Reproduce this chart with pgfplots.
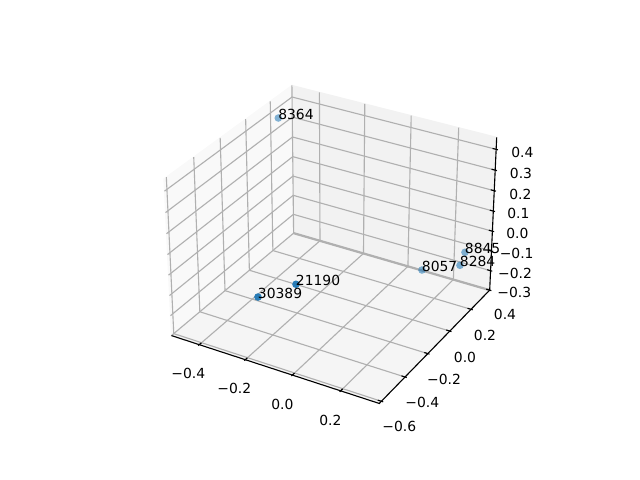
\documentclass[border=0pt]{standalone}
\usepackage{pgfplots}
\pgfplotsset{compat=1.18}
\usepackage{fontspec}
\setmainfont{DejaVu Sans}
\definecolor{gridc}{HTML}{B0B0B0}
\definecolor{ptc}{HTML}{1F77B4}
\definecolor{paneL}{HTML}{F9F9F9}
\definecolor{paneR}{HTML}{F2F2F2}
\definecolor{paneF}{HTML}{F5F5F5}
\pgfplotsset{
  table/proj/.style={
    x expr={sx(\thisrow{x},\thisrow{y},\thisrow{z})},
    y expr={sy(\thisrow{x},\thisrow{y},\thisrow{z})}},
  pt3/.style={only marks,mark=*,mark size=2.75pt,
    mark options={draw=ptc,draw opacity=0,fill=ptc,fill opacity=#1},
    point meta=explicit symbolic,
    nodes near coords,
    nodes near coords align={anchor=base west},
    every node near coord/.append style={anchor=base west,inner sep=0pt,outer sep=0pt,yshift=-1bp,text=black,text opacity=1,fill opacity=1,draw opacity=1,font=\fontsize{10bp}{12bp}\selectfont}},
}
\begin{document}
\begin{tikzpicture}[x=1in,y=1in]
\path[use as bounding box] (0,0) rectangle (6.4,4.8);
\begin{axis}[
  at={(0,0)},anchor=south west,
  scale only axis,width=6.4in,height=4.8in,
  xmin=0,xmax=640,ymin=0,ymax=480,
  hide axis,clip=false,
  unbounded coords=jump,empty line=jump,
  declare function={
    ppx(\a)=0.59524*(2*(\a+0.5234)/0.88-1);
    ppy(\a)=0.59524*(2*(\a+0.4175)/0.9995-1);
    ppz(\a)=0.44643*(2*(\a+0.3)/0.757-1);
    xvw(\a,\b,\c)=0.86603*ppx(\a)+0.5*ppy(\b);
    yvw(\a,\b,\c)=-0.25*ppx(\a)+0.43301*ppy(\b)+0.86603*ppz(\c);
    zvw(\a,\b,\c)=0.43301*ppx(\a)-0.75*ppy(\b)+0.5*ppz(\c);
    sx(\a,\b,\c)=333.5+2000*xvw(\a,\b,\c)/(10-zvw(\a,\b,\c));
    sy(\a,\b,\c)=480-236.8+2000*yvw(\a,\b,\c)/(10-zvw(\a,\b,\c));
  },
]
% panes
\addplot[fill=paneL,draw=paneL,line width=0.8bp] table[proj] {
x y z
-0.5234 -0.4175 -0.30
-0.5234 0.582 -0.30
-0.5234 0.582 0.457
-0.5234 -0.4175 0.457
} -- cycle;
\addplot[fill=paneR,draw=paneR,line width=0.8bp] table[proj] {
x y z
-0.5234 0.582 -0.30
0.3566 0.582 -0.30
0.3566 0.582 0.457
-0.5234 0.582 0.457
} -- cycle;
\addplot[fill=paneF,draw=paneF,line width=0.8bp] table[proj] {
x y z
-0.5234 -0.4175 -0.30
0.3566 -0.4175 -0.30
0.3566 0.582 -0.30
-0.5234 0.582 -0.30
} -- cycle;
% grid
\addplot[gridc,line width=0.8bp,mark=none] table[proj] {
x y z
-0.4 -0.4175 -0.30
-0.4 0.582 -0.30
-0.4 0.582 0.457

-0.2 -0.4175 -0.30
-0.2 0.582 -0.30
-0.2 0.582 0.457

0.0 -0.4175 -0.30
0.0 0.582 -0.30
0.0 0.582 0.457

0.2 -0.4175 -0.30
0.2 0.582 -0.30
0.2 0.582 0.457
};
\addplot[gridc,line width=0.8bp,mark=none] table[proj] {
x y z
0.3566 -0.4 -0.30
-0.5234 -0.4 -0.30
-0.5234 -0.4 0.457

0.3566 -0.2 -0.30
-0.5234 -0.2 -0.30
-0.5234 -0.2 0.457

0.3566 0.0 -0.30
-0.5234 0.0 -0.30
-0.5234 0.0 0.457

0.3566 0.2 -0.30
-0.5234 0.2 -0.30
-0.5234 0.2 0.457

0.3566 0.4 -0.30
-0.5234 0.4 -0.30
-0.5234 0.4 0.457

-0.5234 0.582 -0.30
-0.5234 0.582 0.457
};
\addplot[gridc,line width=0.8bp,mark=none] table[proj] {
x y z
-0.5234 -0.4175 -0.3
-0.5234 0.582 -0.3
0.3566 0.582 -0.3

-0.5234 -0.4175 -0.2
-0.5234 0.582 -0.2
0.3566 0.582 -0.2

-0.5234 -0.4175 -0.1
-0.5234 0.582 -0.1
0.3566 0.582 -0.1

-0.5234 -0.4175 0.0
-0.5234 0.582 0.0
0.3566 0.582 0.0

-0.5234 -0.4175 0.1
-0.5234 0.582 0.1
0.3566 0.582 0.1

-0.5234 -0.4175 0.2
-0.5234 0.582 0.2
0.3566 0.582 0.2

-0.5234 -0.4175 0.3
-0.5234 0.582 0.3
0.3566 0.582 0.3

-0.5234 -0.4175 0.4
-0.5234 0.582 0.4
0.3566 0.582 0.4
};
% the heavier grey edge along the back of the floor
\addplot[gridc,line width=1.6bp,mark=none] table[proj] {
x y z
-0.5234 0.582 -0.3
0.3566 0.582 -0.3
};
% axis lines
\addplot[black,line width=0.8bp,mark=none] table[proj] {
x y z
-0.5234 -0.4175 -0.30
0.3566 -0.4175 -0.30
0.3566 0.582 -0.30
0.3566 0.582 0.457
};
% tick marks
\addplot[black,line width=0.8bp,mark=none] table[proj] {
x y z
-0.4 -0.4258 -0.30
-0.4 -0.4008 -0.30

-0.2 -0.4258 -0.30
-0.2 -0.4008 -0.30

0.0 -0.4258 -0.30
0.0 -0.4008 -0.30

0.2 -0.4258 -0.30
0.2 -0.4008 -0.30

0.3639 -0.4 -0.30
0.3419 -0.4 -0.30

0.3639 -0.2 -0.30
0.3419 -0.2 -0.30

0.3639 0.0 -0.30
0.3419 0.0 -0.30

0.3639 0.2 -0.30
0.3419 0.2 -0.30

0.3639 0.4 -0.30
0.3419 0.4 -0.30

0.3639 0.582 -0.3
0.3419 0.582 -0.3

0.3639 0.582 -0.2
0.3419 0.582 -0.2

0.3639 0.582 -0.1
0.3419 0.582 -0.1

0.3639 0.582 0.0
0.3419 0.582 0.0

0.3639 0.582 0.1
0.3419 0.582 0.1

0.3639 0.582 0.2
0.3419 0.582 0.2

0.3639 0.582 0.3
0.3419 0.582 0.3

0.3639 0.582 0.4
0.3419 0.582 0.4
};
% points
\addplot[pt3=0.55] table[proj,meta=label] {
x y z label
-0.5093 0.4382 0.3625 8364
};
\addplot[pt3=0.55] table[proj,meta=label] {
x y z label
0.2549 0.5592 -0.1288 8845
};
\addplot[pt3=0.58] table[proj,meta=label] {
x y z label
0.2785 0.4587 -0.1348 8284
};
\addplot[pt3=0.55] table[proj,meta=label] {
x y z label
0.1728 0.3361 -0.1306 8057
};
\addplot[pt3=0.95] table[proj,meta=label] {
x y z label
-0.1596 -0.0828 -0.0959 21190
};
\addplot[pt3=0.95] table[proj,meta=label] {
x y z label
-0.2356 -0.246 -0.098 30389
};
% tick labels (pixel positions, y measured from the top)
\newcommand\lab[3]{\node[anchor=center,inner sep=0pt,font=\fontsize{10bp}{12bp}\selectfont] at (axis cs:#1,480-#2) {#3};}
\lab{188.3}{373.3}{−0.4}
\lab{234.3}{388.3}{−0.2}
\lab{282.3}{404.3}{0.0}
\lab{330.3}{420}{0.2}
\lab{505}{314}{0.4}
\lab{485}{335.3}{0.2}
\lab{465}{357.3}{0.0}
\lab{444}{379}{−0.2}
\lab{422.3}{402}{−0.4}
\lab{399.3}{426.3}{−0.6}
\lab{522.3}{152}{0.4}
\lab{521}{173.3}{0.3}
\lab{520.3}{194}{0.2}
\lab{518.3}{213.3}{0.1}
\lab{517.3}{233.3}{0.0}
\lab{516.7}{253.3}{−0.1}
\lab{515}{273.3}{−0.2}
\lab{514.3}{292.7}{−0.3}
\end{axis}
\end{tikzpicture}
\end{document}
